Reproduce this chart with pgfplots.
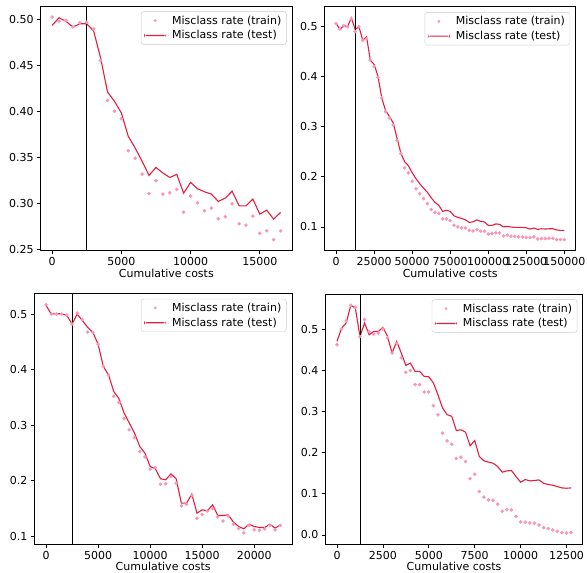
\documentclass[border=0pt]{standalone}
\usepackage{fontspec}
\setmainfont{DejaVu Sans}
\usepackage{pgfplots}
\usepackage{pgfplotstable}
\pgfplotsset{compat=1.18}

\definecolor{testc}{RGB}{228,30,62}
\definecolor{trainc}{RGB}{250,150,185}

% top left
\pgfplotstableread{
x train test
0 0.5025 0.4935
500 0.498 0.5018
1000 0.499 0.498
1500 0.492 0.4916
2000 0.4964 0.4953
2500 0.497 0.4953
3000 0.4898 0.4873
3500 0.4553 0.4582
4000 0.4117 0.4211
4500 0.4001 0.411
5000 0.392 0.3983
5500 0.3572 0.3728
6000 0.349 0.360
6500 0.3318 0.3456
7000 0.3107 0.3303
7500 0.3245 0.339
8000 0.310 0.3329
8500 0.3114 0.3281
9000 0.315 0.3314
9500 0.2903 0.311
10000 0.3078 0.3227
10500 0.3005 0.3158
11000 0.2918 0.3125
11500 0.2947 0.310
12000 0.2831 0.302
12500 0.2853 0.3056
13000 0.2994 0.3132
13500 0.2776 0.2972
14000 0.2762 0.2972
14500 0.286 0.3045
15000 0.2674 0.2882
15500 0.270 0.2925
16000 0.2605 0.2827
16500 0.270 0.290
}\tA

% top right
\pgfplotstableread{
x train test
0 0.505 0.5053
2500 0.494 0.4934
5000 0.501 0.5013
7500 0.499 0.4987
10000 0.514 0.5166
12500 0.489 0.4934
15000 0.499 0.4987
17500 0.472 0.472
20000 0.475 0.4787
22500 0.432 0.432
25000 0.420 0.4236
27500 0.398 0.4003
30000 0.357 0.3571
32500 0.330 0.3319
35000 0.3173 0.3206
37500 0.3027 0.3073
40000 0.2721 0.2774
42500 0.2462 0.2475
45000 0.2176 0.230
47500 0.2076 0.222
50000 0.191 0.208
52500 0.176 0.196
55000 0.166 0.186
57500 0.1565 0.177
60000 0.1465 0.169
62500 0.1346 0.158
65000 0.129 0.149
67500 0.127 0.143
70000 0.116 0.131
72500 0.116 0.133
75000 0.1126 0.131
77500 0.1033 0.122
80000 0.100 0.119
82500 0.098 0.117
85000 0.098 0.114
87500 0.0934 0.109
90000 0.092 0.110
92500 0.0947 0.114
95000 0.0914 0.111
97500 0.0914 0.110
100000 0.086 0.103
102500 0.0867 0.103
105000 0.088 0.106
107500 0.088 0.105
110000 0.082 0.100
112500 0.0834 0.101
115000 0.0814 0.0997
117500 0.0814 0.099
120000 0.080 0.099
122500 0.080 0.099
125000 0.0787 0.0983
127500 0.0787 0.0957
130000 0.080 0.0977
132500 0.076 0.095
135000 0.0767 0.0963
137500 0.0767 0.0957
140000 0.0774 0.0963
142500 0.0774 0.0963
145000 0.0747 0.094
147500 0.0747 0.093
150000 0.0747 0.093
}\tB

% bottom left
\pgfplotstableread{
x train test
0 0.5168 0.5156
500 0.500 0.500
1000 0.500 0.5006
1500 0.500 0.5006
2000 0.498 0.4976
2500 0.482 0.482
3000 0.502 0.500
3500 0.490 0.488
4000 0.4676 0.476
4500 0.467 0.467
5000 0.446 0.446
5500 0.406 0.4058
6000 0.390 0.391
6500 0.352 0.361
7000 0.341 0.348
7500 0.312 0.322
8000 0.292 0.304
8500 0.278 0.286
9000 0.253 0.262
9500 0.243 0.250
10000 0.221 0.226
10500 0.224 0.2217
11000 0.194 0.2038
11500 0.195 0.202
12000 0.208 0.2127
12500 0.196 0.2038
13000 0.155 0.160
13500 0.158 0.160
14000 0.174 0.1762
14500 0.133 0.142
15000 0.1397 0.148
15500 0.146 0.1462
16000 0.150 0.157
16500 0.135 0.1378
17000 0.128 0.1378
17500 0.137 0.139
18000 0.122 0.1258
18500 0.1144 0.118
19000 0.1065 0.1138
19500 0.120 0.1222
20000 0.112 0.118
20500 0.111 0.1162
21000 0.1138 0.1162
21500 0.120 0.1222
22000 0.112 0.115
22500 0.120 0.121
}\tC

% bottom right
\pgfplotstableread{
x train test
0 0.462 0.470
250 0.50 0.5024
500 0.52 0.5146
750 0.5575 0.5575
1000 0.553 0.551
1250 0.482 0.482
1500 0.523 0.5146
1750 0.494 0.486
2000 0.488 0.494
2250 0.490 0.494
2500 0.500 0.504
2750 0.478 0.482
3000 0.442 0.4416
3250 0.465 0.470
3500 0.430 0.4416
3750 0.395 0.4117
4000 0.399 0.4173
4250 0.365 0.397
4500 0.365 0.397
4750 0.347 0.385
5000 0.347 0.384
5250 0.314 0.369
5500 0.292 0.340
5750 0.2472 0.308
6000 0.2285 0.292
6250 0.2204 0.288
6500 0.1856 0.2537
6750 0.1888 0.2553
7000 0.1783 0.2496
7250 0.137 0.2164
7500 0.1475 0.2294
7750 0.1054 0.1905
8000 0.0916 0.180
8250 0.0851 0.1767
8500 0.0843 0.1742
8750 0.0746 0.1661
9000 0.0576 0.1523
9250 0.0616 0.1556
9500 0.0608 0.1564
9750 0.0446 0.1418
10000 0.0316 0.128
10250 0.0308 0.1345
10500 0.0292 0.1313
10750 0.0284 0.1321
11000 0.0243 0.1337
11250 0.0178 0.1256
11500 0.0154 0.1224
11750 0.0122 0.1207
12000 0.0089 0.1175
12250 0.0057 0.1142
12500 0.0049 0.1134
12750 0.0057 0.1142
}\tD

\pgfplotsset{
  mpl/.style={
    scale only axis, anchor=south west,
    axis line style={line width=0.8pt},
    tick align=outside, tick pos=left,
    major tick length=3.5pt,
    every tick/.style={black, line width=0.8pt},
    tick label style={font=\fontsize{11}{13}\selectfont},
    label style={font=\fontsize{11}{13}\selectfont},
    xlabel={Cumulative costs},
    xlabel style={yshift=4pt},
    /pgf/number format/assume math mode=true,
    scaled ticks=false,
    x tick label style={/pgf/number format/.cd, fixed, precision=0, 1000 sep={}},
    y tick label style={/pgf/number format/.cd, fixed, fixed zerofill, precision=1},
    legend style={at={(1,1)}, anchor=north east, xshift=-5.5pt, yshift=-5.5pt,
      draw=black!20, rounded corners=2.5pt, fill=white,
      font=\fontsize{11}{13}\selectfont, inner xsep=3pt, inner ysep=2pt,
      row sep=1pt, column sep=4pt},
    legend cell align=left,
  },
  trainp/.style={only marks, mark=*, mark size=1.6pt, color=trainc, forget plot},
  testp/.style={no marks, line width=1.1pt, color=testc, forget plot},
  vline/.style={black, line width=0.8pt, forget plot},
  trainleg/.style={legend image code/.code={%
      \begin{pgfscope}%
      \pgfpathrectangle{\pgfpoint{0pt}{-1pt}}{\pgfpoint{22pt}{2pt}}\pgfusepath{}%
      \pgfsetfillcolor{trainc}%
      \pgfpathcircle{\pgfpoint{11pt}{0pt}}{1.6pt}\pgfusepath{fill}%
      \end{pgfscope}}},
  testleg/.style={legend image code/.code={%
      \begin{pgfscope}%
      \pgfsetfillcolor{testc}%
      \pgfpathrectangle{\pgfpoint{0pt}{-0.55pt}}{\pgfpoint{22pt}{1.1pt}}\pgfusepath{fill}%
      \end{pgfscope}}},
}

\begin{document}
\begin{tikzpicture}
\useasboundingbox (0,0) rectangle (587pt,573pt);

\begin{axis}[mpl, at={(40.7pt,322.3pt)}, width=251.3pt, height=244.7pt,
  xmin=-825, xmax=17325, ymin=0.2484, ymax=0.5146,
  xtick={0,5000,10000,15000}, ytick={0.25,0.30,0.35,0.40,0.45,0.50},
  y tick label style={/pgf/number format/precision=2}]
\addlegendimage{trainleg}
\addlegendimage{testleg}
\addplot[trainp] table[x=x,y=train]{\tA};
\addplot[testp] table[x=x,y=test]{\tA};
\addplot[vline] coordinates {(2500,0.2484) (2500,0.5146)};
\legend{Misclass rate (train),Misclass rate (test)}
\end{axis}

\begin{axis}[mpl, at={(324.7pt,322.3pt)}, width=251pt, height=244pt,
  xmin=-7500, xmax=157500, ymin=0.0526, ymax=0.5387,
  xtick={0,25000,50000,75000,100000,125000,150000}, ytick={0.1,0.2,0.3,0.4,0.5}]
\addlegendimage{trainleg}
\addlegendimage{testleg}
\addplot[trainp] table[x=x,y=train]{\tB};
\addplot[testp] table[x=x,y=test]{\tB};
\addplot[vline] coordinates {(12500,0.0526) (12500,0.5387)};
\legend{Misclass rate (train),Misclass rate (test)}
\end{axis}

\begin{axis}[mpl, at={(34.3pt,28.7pt)}, width=257.7pt, height=251pt,
  xmin=-1125, xmax=23625, ymin=0.086, ymax=0.5373,
  xtick={0,5000,10000,15000,20000}, ytick={0.1,0.2,0.3,0.4,0.5}]
\addlegendimage{trainleg}
\addlegendimage{testleg}
\addplot[trainp] table[x=x,y=train]{\tC};
\addplot[testp] table[x=x,y=test]{\tC};
\addplot[vline] coordinates {(2500,0.086) (2500,0.5373)};
\legend{Misclass rate (train),Misclass rate (test)}
\end{axis}

\begin{axis}[mpl, at={(325.3pt,28.7pt)}, width=257.5pt, height=250.3pt,
  xmin=-637.5, xmax=13387.5, ymin=-0.0227, ymax=0.585,
  xtick={0,2500,5000,7500,10000,12500}, ytick={0.0,0.1,0.2,0.3,0.4,0.5}]
\addlegendimage{trainleg}
\addlegendimage{testleg}
\addplot[trainp] table[x=x,y=train]{\tD};
\addplot[testp] table[x=x,y=test]{\tD};
\addplot[vline] coordinates {(1250,-0.0227) (1250,0.585)};
\legend{Misclass rate (train),Misclass rate (test)}
\end{axis}
\end{tikzpicture}
\end{document}
